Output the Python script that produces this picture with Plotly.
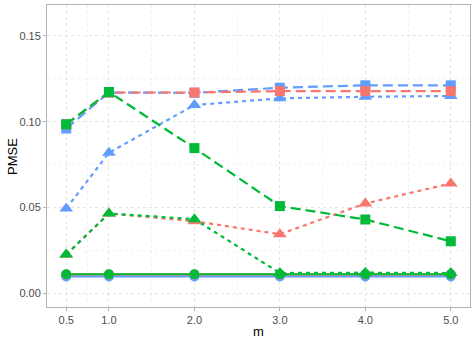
import plotly.graph_objects as go

m = [0.5, 1.0, 2.0, 3.0, 4.0, 5.0]
m_labels = ["0.5", "1.0", "2.0", "3.0", "4.0", "5.0"]

# PMSE per group, three line types (solid/circle, dashed/square, dotted/triangle)
blue_circle = [0.0098, 0.0098, 0.0098, 0.0098, 0.0098, 0.0098]
red_circle = [0.0110, 0.0110, 0.0110, 0.0110, 0.0110, 0.0110]
green_circle = [0.0111, 0.0111, 0.0111, 0.0111, 0.0111, 0.0111]

blue_square = [0.0960, 0.1170, 0.1168, 0.1198, 0.1212, 0.1212]
red_square = [0.0985, 0.1170, 0.1170, 0.1178, 0.1178, 0.1178]
green_square = [0.0985, 0.1173, 0.0846, 0.0508, 0.0430, 0.0303]

blue_tri = [0.0494, 0.0819, 0.1097, 0.1136, 0.1145, 0.1150]
red_tri = [0.0225, 0.0465, 0.0420, 0.0344, 0.0523, 0.0640]
green_tri = [0.0226, 0.0465, 0.0432, 0.0118, 0.0120, 0.0118]

RED, GREEN, BLUE = "#F8766D", "#00BA38", "#619CFF"

series = [
    (blue_circle, BLUE, "solid", "circle"),
    (blue_square, BLUE, "10px,5px", "square"),
    (blue_tri, BLUE, "4px,4px", "triangle-up"),
    (red_circle, RED, "solid", "circle"),
    (red_square, RED, "10px,5px", "square"),
    (red_tri, RED, "4px,4px", "triangle-up"),
    (green_circle, GREEN, "solid", "circle"),
    (green_square, GREEN, "10px,5px", "square"),
    (green_tri, GREEN, "4px,4px", "triangle-up"),
]

fig = go.Figure()
# lines layer first, points layer on top (as ggplot does)
for y, col, dash, sym in series:
    fig.add_trace(go.Scatter(x=m, y=y, mode="lines", showlegend=False,
                             line=dict(color=col, width=2.2, dash=dash)))
for y, col, dash, sym in series:
    fig.add_trace(go.Scatter(x=m, y=y, mode="markers", showlegend=False,
                             marker=dict(color=col, symbol=sym, opacity=1,
                                         line=dict(width=0, color=col),
                                         size=12 if sym == "triangle-up" else 10)))

axis_common = dict(
    showline=True, linecolor="#B3B3B3", linewidth=1, mirror=True,
    ticks="outside", ticklen=3, tickcolor="#B3B3B3",
    showgrid=True, gridcolor="#E4E4E4", gridwidth=1, griddash="dot",
    zeroline=False, automargin=False,
    tickfont=dict(family="Liberation Sans, Arial", size=11, color="#4D4D4D"),
)

fig.update_xaxes(
    **axis_common,
    range=[0.275, 5.225], tickmode="array", tickvals=m, ticktext=m_labels,
    minor=dict(tickmode="array", tickvals=[0.75, 1.5, 2.5, 3.5, 4.5],
               showgrid=True, gridcolor="#F0F0F0", gridwidth=1, ticks=""),
)
fig.update_yaxes(
    **axis_common,
    range=[-0.008, 0.168], tickmode="array", tickvals=[0, 0.05, 0.10, 0.15],
    ticktext=["0.00", "0.05", "0.10", "0.15"],
    minor=dict(tickmode="array", tickvals=[0.025, 0.075, 0.125],
               showgrid=True, gridcolor="#F0F0F0", gridwidth=1, ticks=""),
)

title_font = dict(family="Liberation Sans, Arial", size=13, color="#000000")
fig.update_layout(
    width=476, height=340,
    margin=dict(l=47, r=6, t=5, b=33),
    plot_bgcolor="white", paper_bgcolor="white",
    showlegend=False,
    annotations=[
        dict(text="m", xref="paper", yref="paper", x=0.5, y=-0.08,
             xanchor="center", yanchor="middle", showarrow=False, font=title_font),
        dict(text="PMSE", xref="paper", yref="paper", x=-0.083, y=0.5, textangle=-90,
             xanchor="center", yanchor="middle", showarrow=False, font=title_font),
    ],
)

fig.write_html("out.html", config={"displayModeBar": False},
               post_script="document.body.style.margin='0';")
